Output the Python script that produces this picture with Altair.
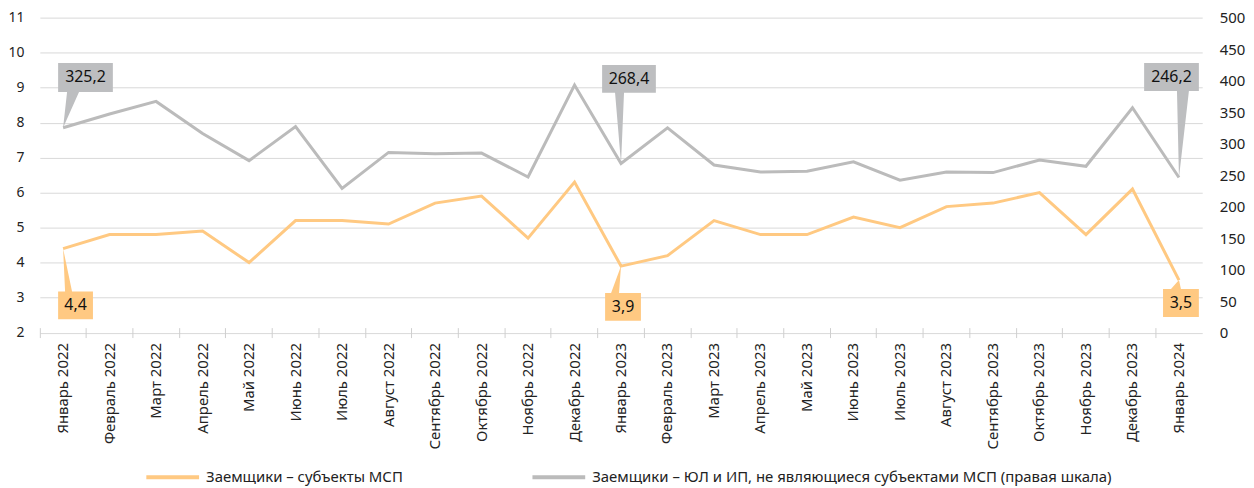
import altair as alt
import pandas as pd

months = ["Январь 2022", "Февраль 2022", "Март 2022", "Апрель 2022", "Май 2022", "Июнь 2022",
          "Июль 2022", "Август 2022", "Сентябрь 2022", "Октябрь 2022", "Ноябрь 2022", "Декабрь 2022",
          "Январь 2023", "Февраль 2023", "Март 2023", "Апрель 2023", "Май 2023", "Июнь 2023",
          "Июль 2023", "Август 2023", "Сентябрь 2023", "Октябрь 2023", "Ноябрь 2023", "Декабрь 2023",
          "Январь 2024"]
msp = [4.4, 4.8, 4.8, 4.9, 4.0, 5.2, 5.2, 5.1, 5.7, 5.9, 4.7, 6.3,
       3.9, 4.2, 5.2, 4.8, 4.8, 5.3, 5.0, 5.6, 5.7, 6.0, 4.8, 6.1, 3.5]
non_msp = [325.2, 347, 367, 316, 273, 327, 229, 286, 284, 285, 247, 393,
           268.4, 325, 266, 255, 256, 271, 242, 255, 254, 274, 264, 357, 246.2]
series_names = ["Заемщики – субъекты МСП",
                "Заемщики – ЮЛ и ИП, не являющиеся субъектами МСП (правая шкала)"]
callout_months = ["Январь 2022", "Январь 2023", "Январь 2024"]

ORANGE = "#FFC982"
GRAY = "#BBBBBB"
BOX_GRAY = "#BDBEC0"
W, H = 1168, 316.5
FONT = "Noto Sans"

def fmt(v):
    return f"{v:.1f}".replace(".", ",")

df_o = pd.DataFrame({"month": months, "value": msp, "series": series_names[0]})
df_g = pd.DataFrame({"month": months, "value": non_msp, "series": series_names[1]})
df_o["label"] = df_o["value"].map(fmt)
df_g["label"] = df_g["value"].map(fmt)

x_axis = alt.Axis(title=None, bandPosition=0, labelAngle=-90,
                  domain=False, tickSize=10, offset=-5, tickColor="#CFCFCF",
                  labelPadding=5, labelFontSize=15, labelColor="#222222", grid=False)
x_scale = alt.Scale(type="band", paddingInner=0, paddingOuter=0)

def xenc():
    return alt.X("month:N", sort=months, bandPosition=0.5, scale=x_scale, axis=x_axis)

color_scale = alt.Scale(domain=series_names, range=[ORANGE, GRAY])

yl_scale = alt.Scale(domain=[2, 11], nice=False, zero=False)
yl_axis = alt.Axis(title=None, values=list(range(2, 12)), grid=True, gridColor="#D9D9D9",
                   domain=False, ticks=False, labelPadding=16, labelFontSize=14,
                   labelColor="#222222", orient="left")
yr_scale = alt.Scale(domain=[0, 500], nice=False)
yr_axis = alt.Axis(title=None, values=list(range(0, 501, 50)), grid=False, domain=False,
                   ticks=False, labelPadding=17, labelFontSize=15, labelColor="#222222",
                   orient="right")

legend = alt.Legend(title=None, orient="none", legendX=105, legendY=433, direction="horizontal",
                    symbolType="stroke", symbolSize=2809, symbolStrokeWidth=4,
                    labelFontSize=15, labelColor="#222222", columnPadding=121, labelLimit=0,
                    labelOffset=5)

orange_line = alt.Chart(df_o).mark_line(strokeWidth=3).encode(
    x=xenc(),
    y=alt.Y("value:Q", scale=yl_scale, axis=yl_axis),
    color=alt.Color("series:N", scale=color_scale, legend=legend),
)
gray_line = alt.Chart(df_g).mark_line(strokeWidth=3).encode(
    x=xenc(),
    y=alt.Y("value:Q", scale=yr_scale, axis=yr_axis),
    color=alt.Color("series:N", scale=color_scale, legend=legend),
)

# callout shapes (relative pixel paths, size=4 gives 1px per unit)
gray_shapes = {
    "Январь 2022": ("M0,0 L4,-36 L-5,-36 L-5,-65 L50,-65 L50,-36 L16,-36 Z", 22.5, -50.5),
    "Январь 2023": ("M0,0 L3,-71 L35,-71 L35,-99 L-19,-99 L-19,-71 L-6,-71 Z", 8, -85),
    "Январь 2024": ("M0,0 L10,-87 L20,-87 L20,-115 L-35,-115 L-35,-87 L-2,-87 Z", -7.5, -101),
}
orange_shapes = {
    "Январь 2022": ("M0,0 L9,43 L30,43 L30,71 L-5,71 L-5,43 L2,43 Z", 12.5, 57),
    "Январь 2023": ("M0,0 L-2,27 L20,27 L20,55 L-16,55 L-16,27 L-10,27 Z", 2, 41),
    "Январь 2024": ("M0,0 L2,9 L20,9 L20,37 L-16,37 L-16,9 L-8,9 Z", 2, 23),
}

def callouts(df, shapes, fill, yscale, yaxis):
    layers = []
    for m in callout_months:
        path, tx, ty = shapes[m]
        sub = df[df["month"] == m]
        base = alt.Chart(sub).encode(
            x=xenc(),
            y=alt.Y("value:Q", scale=yscale, axis=yaxis),
        )
        layers.append(base.mark_point(shape=path, size=4, filled=True, fill=fill,
                                      opacity=1, strokeWidth=0))
        layers.append(base.mark_text(dx=tx, dy=ty, fontSize=16, color="#111111",
                                     align="center", baseline="middle", font=FONT)
                      .encode(text="label:N"))
    return layers

orange_layer = alt.layer(orange_line, *callouts(df_o, orange_shapes, ORANGE, yl_scale, yl_axis))
gray_layer = alt.layer(gray_line, *callouts(df_g, gray_shapes, BOX_GRAY, yr_scale, yr_axis))

chart = alt.layer(orange_layer, gray_layer).resolve_scale(y="independent").properties(
    width=W, height=H,
    padding={"left": 32, "top": 8.5, "right": 44, "bottom": 155},
    autosize=alt.AutoSizeParams(type="none"),
).configure(font=FONT).configure_view(stroke=None)

chart.save("out.html", embed_options={"renderer": "svg", "actions": False})
